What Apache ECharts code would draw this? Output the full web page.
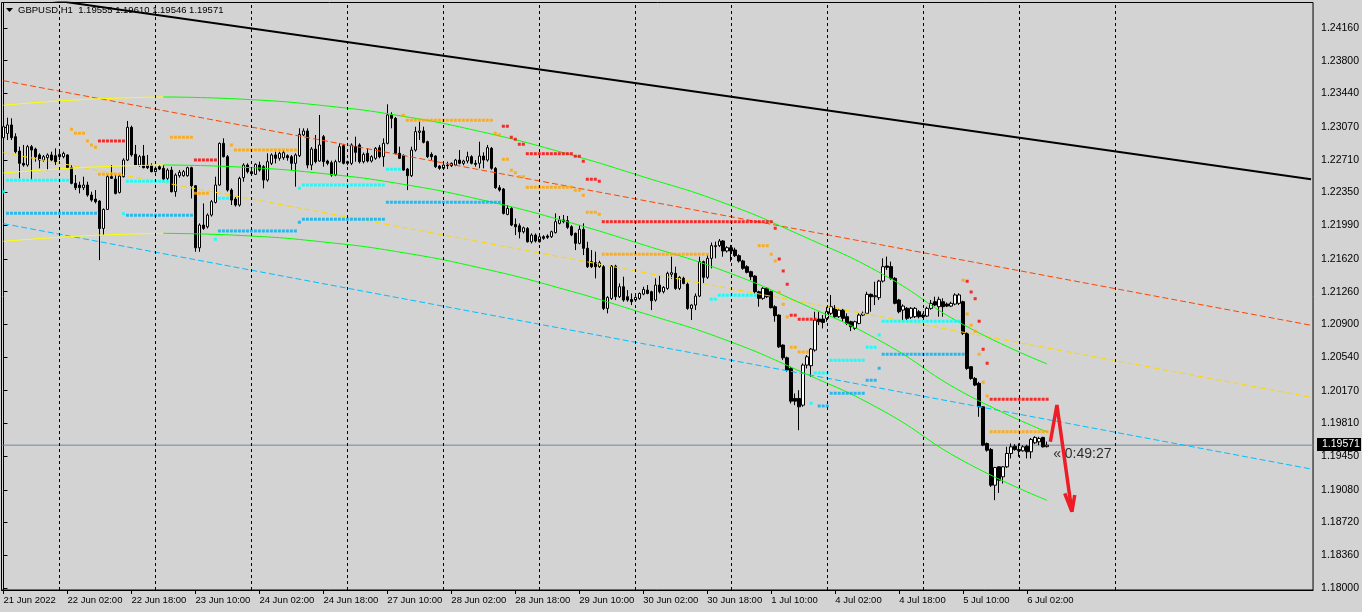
<!DOCTYPE html>
<html><head><meta charset="utf-8">
<script src="https://cdn.jsdelivr.net/npm/echarts@6/dist/echarts.min.js"></script>
<style>html,body{margin:0;padding:0;background:#d3d3d3;overflow:hidden}#c{width:1362px;height:612px}</style>
</head><body><div id="c"></div>
<script>
// ---------- DATA ----------
const symbolTitle = 'GBPUSD,H1';
const lastQuoteText = ['1.19555', '1.19610', '1.19546', '1.19571'];
const countdownText = '\u00AB 0:49:27';
const xTickLabels = ['21 Jun 2022','22 Jun 02:00','22 Jun 18:00','23 Jun 10:00','24 Jun 02:00','24 Jun 18:00',
  '27 Jun 10:00','28 Jun 02:00','28 Jun 18:00','29 Jun 10:00','30 Jun 02:00','30 Jun 18:00','1 Jul 10:00',
  '4 Jul 02:00','4 Jul 18:00','5 Jul 10:00','6 Jul 02:00'];
const xTickEvery = 16;                 // one time label every 16 hourly bars
const dayStartIdx = [14,38,62,86,110,134,158,182,206,230,254,278]; // bar index of each 00:00
const totalSlots = 328;                // bars + empty future space
const yTickValues = [1.24160,1.23800,1.23440,1.23070,1.22710,1.22350,1.21990,1.21620,1.21260,
  1.20900,1.20540,1.20170,1.19810,1.19450,1.19080,1.18720,1.18360,1.18000];
const yRange = [1.17978, 1.24440];

// hourly bars: [open, high, low, close]
const ohlc = [
[1.22953,1.23221,1.22744,1.23074],[1.23000,1.23173,1.22928,1.23093],[1.23093,1.23166,1.22928,1.22953],[1.22964,1.23001,1.22781,1.22799],
[1.22806,1.22854,1.22506,1.22671],[1.22671,1.22873,1.22634,1.22652],[1.22652,1.22873,1.22634,1.22854],[1.22854,1.22873,1.22487,1.22817],
[1.22828,1.22843,1.22689,1.22744],[1.22763,1.22781,1.22616,1.22707],[1.22707,1.22763,1.22689,1.22744],[1.22733,1.22781,1.22597,1.22763],
[1.22763,1.22799,1.22689,1.22707],[1.22755,1.22836,1.22652,1.22689],[1.22744,1.22817,1.22707,1.22770],[1.22744,1.22799,1.22726,1.22781],
[1.22763,1.22770,1.22616,1.22623],[1.22623,1.22652,1.22440,1.22451],[1.22451,1.22542,1.22377,1.22403],[1.22432,1.22469,1.22340,1.22403],
[1.22403,1.22524,1.22377,1.22432],[1.22432,1.22469,1.22304,1.22322],[1.22322,1.22359,1.22249,1.22267],[1.22278,1.22377,1.22230,1.22249],
[1.22256,1.22267,1.21606,1.21955],[1.21955,1.22175,1.21882,1.22164],[1.22164,1.22542,1.22157,1.22524],[1.22524,1.22652,1.22500,1.22506],
[1.22498,1.22542,1.22329,1.22340],[1.22351,1.22542,1.22340,1.22531],[1.22524,1.22726,1.22515,1.22707],[1.22707,1.23137,1.22696,1.23067],
[1.23067,1.23085,1.22744,1.22763],[1.22770,1.22873,1.22641,1.22652],[1.22652,1.22763,1.22634,1.22744],[1.22751,1.22873,1.22616,1.22623],
[1.22652,1.22763,1.22608,1.22623],[1.22645,1.22671,1.22572,1.22579],[1.22579,1.22634,1.22572,1.22616],[1.22634,1.22652,1.22597,1.22608],
[1.22616,1.22652,1.22487,1.22498],[1.22506,1.22616,1.22487,1.22597],[1.22597,1.22634,1.22351,1.22359],[1.22359,1.22561,1.22304,1.22542],
[1.22535,1.22597,1.22513,1.22572],[1.22535,1.22597,1.22524,1.22579],[1.22535,1.22634,1.22524,1.22623],[1.22623,1.22634,1.22285,1.22425],
[1.22425,1.22432,1.21698,1.21742],[1.21742,1.22010,1.21698,1.21992],[1.21992,1.22230,1.21940,1.21955],[1.21973,1.22120,1.21955,1.22102],
[1.22102,1.22267,1.22085,1.22249],[1.22241,1.22524,1.22230,1.22432],[1.22432,1.22900,1.22425,1.22891],[1.22891,1.22946,1.22735,1.22744],
[1.22744,1.22763,1.22360,1.22377],[1.22377,1.22396,1.22212,1.22267],[1.22278,1.22300,1.22195,1.22212],[1.22212,1.22524,1.22195,1.22506],
[1.22513,1.22671,1.22469,1.22652],[1.22652,1.22671,1.22560,1.22579],[1.22579,1.22600,1.22540,1.22557],[1.22550,1.22671,1.22542,1.22660],
[1.22652,1.22689,1.22580,1.22597],[1.22634,1.22652,1.22396,1.22487],[1.22487,1.22781,1.22469,1.22689],[1.22671,1.22781,1.22652,1.22763],
[1.22763,1.22799,1.22671,1.22726],[1.22726,1.22799,1.22700,1.22781],[1.22733,1.22810,1.22710,1.22788],[1.22755,1.22770,1.22700,1.22733],
[1.22744,1.22763,1.22597,1.22671],[1.22671,1.22781,1.22414,1.22763],[1.22755,1.23056,1.22740,1.22990],[1.22983,1.23056,1.22970,1.23027],
[1.23027,1.23056,1.22616,1.22652],[1.22652,1.22850,1.22597,1.22828],[1.22828,1.22983,1.22670,1.22689],[1.22696,1.23203,1.22689,1.22873],
[1.22964,1.22983,1.22634,1.22689],[1.22696,1.22710,1.22650,1.22671],[1.22678,1.22700,1.22524,1.22542],[1.22542,1.22710,1.22530,1.22689],
[1.22689,1.22891,1.22680,1.22854],[1.22865,1.22880,1.22660,1.22671],[1.22689,1.22700,1.22650,1.22671],[1.22671,1.22891,1.22652,1.22873],
[1.22854,1.22964,1.22689,1.22792],[1.22873,1.22891,1.22670,1.22689],[1.22689,1.22790,1.22670,1.22770],[1.22781,1.22836,1.22680,1.22696],
[1.22696,1.22760,1.22680,1.22744],[1.22726,1.22850,1.22710,1.22836],[1.22843,1.22873,1.22726,1.22744],[1.22744,1.22946,1.22634,1.22891],
[1.22891,1.23320,1.22880,1.23203],[1.23203,1.23232,1.23056,1.23166],[1.23166,1.23180,1.22770,1.22781],[1.22781,1.22854,1.22720,1.22726],
[1.22755,1.22770,1.22590,1.22597],[1.22608,1.22620,1.22377,1.22535],[1.22535,1.22854,1.22520,1.22817],[1.22817,1.23074,1.22800,1.23019],
[1.23012,1.23129,1.22928,1.23027],[1.23027,1.23074,1.22890,1.22902],[1.22909,1.22920,1.22730,1.22744],[1.22770,1.22792,1.22707,1.22744],
[1.22751,1.22760,1.22620,1.22634],[1.22641,1.22650,1.22600,1.22616],[1.22616,1.22660,1.22600,1.22652],[1.22652,1.22689,1.22608,1.22645],
[1.22645,1.22680,1.22630,1.22671],[1.22652,1.22720,1.22640,1.22707],[1.22707,1.22817,1.22660,1.22671],[1.22671,1.22710,1.22650,1.22696],
[1.22696,1.22799,1.22671,1.22744],[1.22744,1.22760,1.22660,1.22671],[1.22671,1.22707,1.22634,1.22660],[1.22671,1.22909,1.22616,1.22751],
[1.22751,1.22792,1.22616,1.22707],[1.22707,1.22873,1.22690,1.22843],[1.22836,1.22850,1.22600,1.22616],[1.22616,1.22630,1.22390,1.22403],
[1.22403,1.22432,1.22360,1.22377],[1.22388,1.22400,1.22109,1.22120],[1.22109,1.22212,1.22100,1.22175],[1.22175,1.22190,1.21980,1.21992],
[1.21999,1.22065,1.21882,1.21973],[1.21984,1.22010,1.21845,1.21918],[1.21918,1.21975,1.21900,1.21962],[1.21955,1.21970,1.21800,1.21808],
[1.21808,1.21900,1.21790,1.21882],[1.21882,1.21900,1.21800,1.21816],[1.21808,1.21880,1.21800,1.21863],[1.21864,1.21880,1.21830,1.21846],
[1.21872,1.21890,1.21840,1.21857],[1.21864,1.21930,1.21850,1.21919],[1.21908,1.22121,1.21900,1.22029],[1.22011,1.22092,1.22000,1.22048],
[1.22048,1.22103,1.22011,1.22029],[1.22040,1.22092,1.21950,1.21967],[1.21974,1.21990,1.21870,1.21883],[1.21901,1.21910,1.21717,1.21791],
[1.21791,1.21993,1.21780,1.21945],[1.21945,1.22011,1.21662,1.21736],[1.21736,1.21808,1.21520,1.21534],[1.21589,1.21717,1.21520,1.21534],
[1.21578,1.21699,1.21406,1.21534],[1.21534,1.21600,1.21520,1.21578],[1.21534,1.21552,1.21057,1.21075],[1.21075,1.21210,1.21020,1.21196],
[1.21185,1.21552,1.21170,1.21541],[1.21541,1.21555,1.21167,1.21204],[1.21204,1.21350,1.21190,1.21314],[1.21314,1.21424,1.21149,1.21167],
[1.21204,1.21277,1.21149,1.21167],[1.21174,1.21240,1.21112,1.21149],[1.21167,1.21210,1.21150,1.21196],[1.21185,1.21250,1.21170,1.21240],
[1.21233,1.21314,1.21220,1.21284],[1.21277,1.21332,1.21230,1.21240],[1.21259,1.21270,1.21057,1.21160],[1.21167,1.21406,1.21150,1.21332],
[1.21332,1.21442,1.21240,1.21259],[1.21259,1.21320,1.21240,1.21306],[1.21295,1.21479,1.21280,1.21461],[1.21450,1.21644,1.21400,1.21468],
[1.21461,1.21534,1.21280,1.21295],[1.21295,1.21430,1.21277,1.21417],[1.21406,1.21424,1.21340,1.21350],[1.21343,1.21360,1.21060,1.21075],
[1.21075,1.21120,1.20947,1.21112],[1.21112,1.21240,1.21057,1.21211],[1.21211,1.21644,1.21200,1.21589],[1.21589,1.21600,1.21350,1.21417],
[1.21417,1.21662,1.21400,1.21626],[1.21626,1.21800,1.21516,1.21766],[1.21755,1.21810,1.21626,1.21766],[1.21766,1.21839,1.21750,1.21817],
[1.21817,1.21828,1.21644,1.21707],[1.21707,1.21760,1.21690,1.21743],[1.21743,1.21773,1.21589,1.21707],[1.21718,1.21743,1.21640,1.21655],
[1.21655,1.21670,1.21580,1.21597],[1.21597,1.21610,1.21500,1.21516],[1.21534,1.21550,1.21460,1.21472],[1.21479,1.21490,1.21387,1.21424],
[1.21431,1.21440,1.21241,1.21259],[1.21259,1.21270,1.21094,1.21186],[1.21186,1.21310,1.21170,1.21296],[1.21296,1.21310,1.21190,1.21204],
[1.21259,1.21270,1.21076,1.21083],[1.21094,1.21110,1.20929,1.20995],[1.21002,1.21010,1.20640,1.20653],[1.20672,1.20680,1.20507,1.20532],
[1.20532,1.20545,1.20380,1.20397],[1.20415,1.20433,1.20029,1.20055],[1.20085,1.20140,1.20011,1.20055],[1.20085,1.20176,1.19736,1.19993],
[1.20011,1.20470,1.19993,1.20452],[1.20452,1.20562,1.20415,1.20543],[1.20445,1.20640,1.20323,1.20628],[1.20617,1.21039,1.20600,1.20947],
[1.20958,1.21039,1.20892,1.20929],[1.20958,1.21002,1.20855,1.20921],[1.20966,1.21094,1.20929,1.21039],[1.21021,1.21223,1.21002,1.21094],
[1.21076,1.21112,1.20970,1.20984],[1.20984,1.21070,1.20970,1.21057],[1.21057,1.21070,1.20929,1.20966],[1.20984,1.21021,1.20892,1.20910],
[1.20929,1.20940,1.20826,1.20874],[1.20855,1.20940,1.20840,1.20929],[1.20910,1.21021,1.20900,1.21002],[1.21002,1.21040,1.20990,1.21021],
[1.21021,1.21259,1.21010,1.21230],[1.21230,1.21240,1.21039,1.21204],[1.21204,1.21369,1.21112,1.21215],[1.21193,1.21390,1.21167,1.21376],
[1.21376,1.21626,1.21360,1.21534],[1.21542,1.21645,1.21498,1.21527],[1.21535,1.21590,1.21390,1.21406],[1.21406,1.21420,1.21120,1.21131],
[1.21168,1.21180,1.21021,1.21039],[1.21057,1.21120,1.20947,1.21101],[1.21076,1.21090,1.20947,1.20966],[1.20977,1.21090,1.20960,1.21076],
[1.20984,1.21090,1.20970,1.21076],[1.21039,1.21057,1.20966,1.20984],[1.21002,1.21020,1.20970,1.20984],[1.20991,1.21094,1.20980,1.21076],
[1.21076,1.21168,1.21060,1.21131],[1.21149,1.21204,1.21100,1.21112],[1.21094,1.21204,1.20984,1.21175],[1.21149,1.21186,1.20984,1.21094],
[1.21123,1.21140,1.21090,1.21101],[1.21101,1.21149,1.21090,1.21131],[1.21123,1.21241,1.21110,1.21223],[1.21131,1.21241,1.21112,1.21223],
[1.21149,1.21160,1.20782,1.20801],[1.20801,1.20810,1.20400,1.20415],[1.20434,1.20440,1.20290,1.20305],[1.20305,1.20320,1.20220,1.20232],
[1.20251,1.20268,1.19883,1.19993],[1.19993,1.20000,1.19560,1.19571],[1.19589,1.19600,1.19500,1.19516],[1.19523,1.19540,1.19112,1.19131],
[1.19131,1.19333,1.18966,1.19325],[1.19333,1.19340,1.19046,1.19186],[1.19223,1.19340,1.19149,1.19333],[1.19333,1.19553,1.19320,1.19480],
[1.19480,1.19589,1.19425,1.19553],[1.19560,1.19582,1.19510,1.19523],[1.19523,1.19589,1.19443,1.19509],[1.19509,1.19570,1.19500,1.19553],
[1.19560,1.19575,1.19425,1.19498],[1.19498,1.19650,1.19425,1.19634],[1.19597,1.19670,1.19585,1.19656],[1.19608,1.19663,1.19571,1.19645],
[1.19656,1.19663,1.19545,1.19553],[1.19555,1.19610,1.19546,1.19571]
];

// straight objects: [barIndex, price]
const trendBlack  = [[0, 1.24543], [327, 1.22496]];
const channelTop  = [[0, 1.23580], [327, 1.20890]];
const channelMid  = [[0, 1.22788], [327, 1.20098]];
const channelLow  = [[0, 1.22007], [327, 1.19309]];

// curved regression channel: [barIndex, price]; drawn yellow up to regColorSwitch, green after
const regColorSwitch = 40;
const regUpper = [[0,1.23310],[20,1.23373],[40,1.23401],[60,1.23376],[80,1.23306],[100,1.23188],[120,1.23013],
  [140,1.22788],[160,1.22523],[180,1.22238],[200,1.21868],[220,1.21448],[240,1.20898],[261,1.20464]];
const regMiddle = [[0,1.22565],[20,1.22625],[40,1.22653],[60,1.22628],[80,1.22558],[100,1.22440],[120,1.22265],
  [140,1.22040],[160,1.21775],[180,1.21490],[200,1.21120],[220,1.20700],[240,1.20150],[261,1.19716]];
const regLower = [[0,1.21813],[20,1.21873],[40,1.21901],[60,1.21876],[80,1.21806],[100,1.21688],[120,1.21513],
  [140,1.21288],[160,1.21023],[180,1.20738],[200,1.20368],[220,1.19948],[240,1.19398],[261,1.18964]];

// dotted levels: [fromBar, toBar, price]
const dotsOrange = [[17,17,1.23046],[18,20,1.23002],[21,21,1.22917],[22,22,1.22873],[23,23,1.22848],[24,29,1.22551],
  [42,47,1.22958],[48,51,1.22342],[57,57,1.22873],[58,73,1.22818],[100,100,1.23200],[101,122,1.23145],[123,123,1.23002],
  [124,124,1.22983],[125,126,1.22716],[127,127,1.22595],[128,128,1.22568],[129,130,1.22524],[131,142,1.22408],[143,144,1.22375],
  [145,145,1.22320],[146,148,1.22133],[149,149,1.22111],[150,176,1.21671],[189,191,1.21765],[192,192,1.21671],[193,193,1.21597],
  [194,194,1.21253],[195,195,1.21121],[196,196,1.20981],[197,198,1.20648],[199,201,1.20596],[240,240,1.21385],[241,241,1.21014],
  [242,242,1.20890],[243,243,1.20824],[244,244,1.20571],[245,245,1.20263],[246,246,1.20112],[247,261,1.19719]];
const dotsRed = [[24,30,1.22917],[48,53,1.22708],[125,126,1.23079],[127,127,1.22958],[128,128,1.22936],[129,130,1.22881],
  [131,142,1.22777],[143,144,1.22749],[145,145,1.22694],[146,148,1.22496],[149,149,1.22474],[150,192,1.22029],[193,193,1.21957],
  [194,194,1.21619],[195,195,1.21487],[196,196,1.21341],[197,198,1.21000],[199,203,1.20956],[241,241,1.21374],[242,242,1.21256],
  [243,243,1.21182],[244,244,1.20934],[245,245,1.20626],[246,246,1.20472],[247,261,1.20076]];
const dotsCyan = [[0,0,1.22359],[1,16,1.22485],[30,30,1.22117],[31,41,1.22474],[53,53,1.21836],[54,56,1.22287],[74,74,1.22397],
  [75,95,1.22433],[96,99,1.22606],[177,178,1.21177],[179,188,1.21220],[202,202,1.20032],[203,206,1.20365],[207,215,1.20505],
  [216,218,1.20648],[219,219,1.20783],[220,239,1.20934]];
const dotsBlue = [[1,23,1.22122],[31,47,1.22100],[54,73,1.21927],[74,74,1.22023],[75,95,1.22056],[96,124,1.22243],
  [204,206,1.20002],[207,215,1.20142],[216,218,1.20285],[219,219,1.20417],[220,240,1.20571]];

// hand-drawn red arrow: [barIndex, price]
const arrowStroke = [[261.8,1.19609],[263.45,1.20013],[267.2,1.18839]];
const arrowHead = [[265.4,1.19042],[267.2,1.18839],[267.9,1.19023]];

// ---------- CHART ----------
const chart = echarts.init(document.getElementById('c'), null, {renderer: 'canvas'});
const FONT = 'Liberation Sans';
const lastBar = ohlc[ohlc.length - 1];
const lastClose = lastBar[3];
const cats = Array.from({length: totalSlots}, (_, i) => String(i));
const showTick = (i) => i % xTickEvery === 0 && (i / xTickEvery) < xTickLabels.length;

function expandDots(segs) {
  const out = [];
  segs.forEach(([a, b, v]) => { for (let i = a; i <= b; i++) out.push([i, v]); });
  return out;
}
function dotSeries(segs, color) {
  return {type: 'scatter', xAxisIndex: 1, yAxisIndex: 0, data: expandDots(segs), symbol: 'rect',
    symbolSize: 3, itemStyle: {color: color}, silent: true, z: 4, animation: false};
}
function lineSeries(pts, color, width, type, smooth, z) {
  return {type: 'line', xAxisIndex: 1, yAxisIndex: 0, data: pts, showSymbol: false, symbol: 'none',
    smooth: smooth ? 0.5 : false,
    lineStyle: {color: color, width: width, type: type || 'solid'}, silent: true, z: z || 3, animation: false};
}
const regPart = (pts, first) => pts.filter(p => first ? p[0] <= regColorSwitch : p[0] >= regColorSwitch);

const series = [
  // vertical day separators
  {type: 'line', xAxisIndex: 1, yAxisIndex: 0, data: [], z: 1, silent: true,
   markLine: {silent: true, symbol: 'none', animation: false, label: {show: false},
     lineStyle: {color: '#000', width: 1, type: [3, 3]},
     data: dayStartIdx.map(i => ({xAxis: i}))}},
  // current price line across the whole chart
  lineSeries([[-0.5, lastClose], [totalSlots - 0.5, lastClose]], '#778899', 1, 'solid', false, 1),
  {type: 'candlestick', xAxisIndex: 0, yAxisIndex: 0, barWidth: 3, z: 2, silent: true,
   data: ohlc.map(([o, h, l, c]) => [o, c, l, h]),
   itemStyle: {color: '#ffffff', color0: '#000000', borderColor: '#000000', borderColor0: '#000000', borderWidth: 1}},
  lineSeries(channelTop, '#FF4500', 1, [6, 3], false, 3),
  lineSeries(channelMid, '#FFD700', 1, [6, 3], false, 3),
  lineSeries(channelLow, '#00BFFF', 1, [6, 3], false, 3),
  lineSeries(regPart(regUpper, true), '#FFFF00', 1, 'solid', true, 3),
  lineSeries(regPart(regMiddle, true), '#FFFF00', 1, 'solid', true, 3),
  lineSeries(regPart(regLower, true), '#FFFF00', 1, 'solid', true, 3),
  lineSeries(regPart(regUpper, false), '#00FF00', 1, 'solid', true, 3),
  lineSeries(regPart(regMiddle, false), '#00FF00', 1, 'solid', true, 3),
  lineSeries(regPart(regLower, false), '#00FF00', 1, 'solid', true, 3),
  dotSeries(dotsCyan, '#00FFFF'),
  dotSeries(dotsBlue, '#00B0F0'),
  dotSeries(dotsOrange, '#FFA500'),
  dotSeries(dotsRed, '#FF0000'),
  lineSeries(trendBlack, '#000000', 2, 'solid', false, 5),
  lineSeries(arrowStroke, '#EE1C25', 3.5, 'solid', false, 6),
  lineSeries(arrowHead, '#EE1C25', 3.5, 'solid', false, 6),
  // countdown next to the last bar at the current price
  {type: 'scatter', xAxisIndex: 1, yAxisIndex: 0, data: [[ohlc.length, lastClose]], symbolSize: 0, z: 7, silent: true,
   label: {show: true, position: 'right', distance: 2, offset: [0, 9], formatter: countdownText,
     color: '#000', fontFamily: FONT, fontSize: 14}}
];

const option = {
  animation: false,
  backgroundColor: '#d3d3d3',
  grid: {left: 1.5, right: 48.5, top: 2.5, bottom: 22, show: true, borderColor: '#000', borderWidth: 1,
         backgroundColor: '#d3d3d3', containLabel: false},
  xAxis: [
    {type: 'category', data: cats, boundaryGap: true,
     axisLine: {show: true, lineStyle: {color: '#000', width: 1}},
     axisTick: {show: true, alignWithLabel: true, interval: showTick, length: 4, lineStyle: {color: '#000'}},
     axisLabel: {show: true, interval: showTick, align: 'left', margin: 5, color: '#000', fontFamily: FONT, fontSize: 9.5,
       formatter: (v, i) => xTickLabels[i / xTickEvery]},
     splitLine: {show: false}},
    {type: 'value', min: -0.5, max: totalSlots - 0.5, show: false}
  ],
  yAxis: [{type: 'value', position: 'right', min: yRange[0], max: yRange[1],
    axisLine: {show: true, lineStyle: {color: '#000', width: 1}},
    axisTick: {show: true, customValues: yTickValues, length: 4, lineStyle: {color: '#000'}},
    axisLabel: {show: true, customValues: yTickValues, margin: 8, color: '#000', fontFamily: FONT, fontSize: 10.5,
      formatter: v => v.toFixed(5)},
    splitLine: {show: false}}],
  series: series,
  graphic: [
    {type: 'polygon', id: 'tri', z: 1, shape: {points: [[6, 8], [13, 8], [9.5, 12]]}, style: {fill: '#000'}},
    {type: 'text', id: 'title', z: 1, left: 18, top: 5,
     style: {text: symbolTitle + '  ' + lastQuoteText.join(' '), font: '9.5px "' + FONT + '"', fill: '#000'}}
  ]
};
chart.setOption(option);

// price tag on the right scale
const py = chart.convertToPixel({yAxisIndex: 0}, lastClose);
chart.setOption({graphic: [
  {type: 'rect', id: 'tagbox', z: 100, shape: {x: 1317, y: Math.round(py) - 7, width: 44, height: 13}, style: {fill: '#000'}},
  {type: 'text', id: 'tagtxt', z: 101, x: 1322, y: Math.round(py) - 6,
   style: {text: lastClose.toFixed(5), font: '10.5px "' + FONT + '"', fill: '#fff'}}
]});
</script>
</body></html>
